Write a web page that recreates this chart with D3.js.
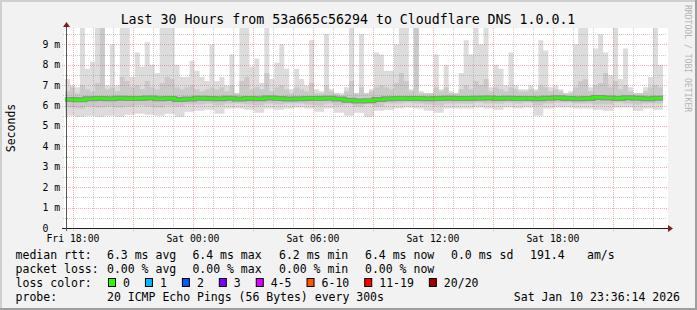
<!DOCTYPE html>
<html>
<head>
<meta charset="utf-8">
<script src="https://cdn.jsdelivr.net/npm/d3@7"></script>
<style>
html, body { margin: 0; padding: 0; background: #f2f2f2; }
svg { display: block; font-family: "DejaVu Sans Mono", monospace; }
</style>
</head>
<body>
<svg id="chart" width="697" height="310"></svg>
<script>
const W = 697, H = 310;
const X0 = 65, X1 = 665, Y_TOP = 28, Y_ZERO = 228;

const TITLE = "Last 30 Hours from 53a665c56294 to Cloudflare DNS 1.0.0.1";
const Y_TITLE = "Seconds";
const tStart = new Date(Date.UTC(2026, 0, 9, 17, 36, 14));
const tEnd = new Date(Date.UTC(2026, 0, 10, 23, 36, 14));
const tDataEnd = new Date(Date.UTC(2026, 0, 10, 23, 30, 0));
const yMax = 9.8;
const yTicks = [0, 1, 2, 3, 4, 5, 6, 7, 8, 9];

// smoke, in ms: upper envelope (15 min steps)
const pingMax = [
  7.3, 7.0, 6.9, 9.8, 7.8, 8.15, 9.8, 9.8, 7.0, 9.0, 7.0, 9.8, 9.8, 7.4, 8.6, 7.9, 9.1, 8.0, 7.6, 9.8, 9.8, 9.8, 8.0, 7.4, 7.4, 8.2, 7.7, 7.4, 7.2, 9.0,
  7.2, 7.4, 7.0, 8.5, 6.6, 9.8, 9.8, 7.9, 8.3, 7.1, 9.8, 7.3, 8.1, 9.0, 7.8, 6.8, 7.8, 7.3, 7.0, 9.2, 6.8, 6.7, 9.5, 6.8, 6.6, 6.6, 6.9, 9.8, 6.6, 9.5,
  6.6, 6.8, 8.6, 8.5, 7.7, 7.7, 9.0, 9.8, 9.8, 6.8, 9.8, 6.7, 6.6, 6.6, 8.5, 6.8, 8.0, 6.7, 6.6, 7.6, 9.2, 8.5, 9.8, 9.0, 9.8, 6.9, 8.0, 7.8, 7.0, 8.6,
  7.0, 6.8, 6.8, 7.0, 6.8, 9.2, 8.7, 6.9, 7.0, 6.8, 6.6, 6.7, 9.0, 9.8, 9.8, 6.9, 8.8, 9.5, 8.6, 7.5, 9.8, 7.3, 8.8, 6.9, 6.6, 6.6, 6.9, 7.4, 9.8, 8.0
];
// denser smoke, upper edge (15 min steps)
const pingHi = [
  6.7, 6.9, 6.6, 7.0, 6.8, 6.7, 7.1, 9.8, 6.8, 6.9, 6.7, 7.4, 7.2, 6.9, 7.0, 6.8, 7.2, 6.9, 6.8, 7.1, 7.4, 7.3, 6.9, 6.8, 6.9, 7.0, 6.8, 6.7, 6.8, 6.9,
  6.8, 6.9, 6.7, 7.0, 6.6, 7.2, 7.4, 6.8, 6.9, 6.8, 7.6, 6.7, 6.9, 7.0, 6.8, 6.6, 6.9, 6.8, 6.7, 7.1, 6.6, 6.6, 7.0, 6.7, 6.6, 6.5, 6.7, 7.2, 6.6, 6.9,
  6.6, 6.7, 6.9, 7.0, 6.9, 6.8, 7.1, 7.6, 7.2, 6.7, 9.8, 6.6, 6.6, 6.6, 6.9, 6.7, 6.9, 6.6, 6.6, 6.8, 7.0, 6.8, 7.2, 7.0, 7.3, 6.7, 6.9, 6.8, 6.7, 6.9,
  6.8, 6.7, 6.7, 6.8, 6.7, 7.0, 6.9, 6.7, 6.8, 6.7, 6.6, 6.6, 6.9, 7.2, 7.3, 6.7, 7.0, 7.1, 7.6, 6.9, 7.2, 6.8, 7.0, 6.7, 6.6, 6.6, 6.7, 6.9, 7.0, 6.9
];
// denser smoke, lower edge (30 min steps)
const pingLo = [
  5.9, 5.85, 5.95, 5.9, 5.95, 5.9, 5.95, 6.0, 5.95, 5.9, 6.0, 5.95, 6.05, 6.05, 6.1,
  6.0, 6.1, 6.1, 6.05, 6.0, 6.1, 6.05, 6.1, 6.1, 6.05, 6.0, 6.1, 6.0, 6.05, 5.95,
  6.05, 5.95, 6.1, 6.1, 6.15, 6.1, 6.05, 6.0, 6.1, 6.1, 6.1, 6.15, 6.1, 6.1, 6.15,
  6.1, 6.15, 6.0, 6.1, 6.15, 6.15, 6.1, 6.1, 6.05, 6.05, 6.15, 6.1, 6.05, 6.1, 6.1
];
// lower envelope (30 min steps)
const pingMin = [
  5.5, 5.45, 5.5, 5.45, 5.5, 5.45, 5.55, 5.6, 5.55, 5.5, 5.6, 5.45, 5.7, 5.75, 5.8,
  5.6, 5.85, 5.85, 5.8, 5.65, 5.85, 5.8, 5.85, 5.9, 5.85, 5.7, 5.85, 5.65, 5.5, 5.65,
  5.45, 5.75, 5.8, 5.85, 5.9, 5.85, 5.75, 5.65, 5.85, 5.85, 5.85, 5.9, 5.85, 5.8, 5.9,
  5.85, 5.9, 5.5, 5.85, 5.9, 5.9, 5.85, 5.85, 5.8, 5.75, 5.9, 5.9, 5.75, 5.85, 5.8
];
// median rtt (30 min steps)
const median = [
  6.3, 6.28, 6.33, 6.35, 6.33, 6.36, 6.34, 6.35, 6.37, 6.33, 6.35, 6.3, 6.32, 6.36, 6.34,
  6.33, 6.36, 6.32, 6.35, 6.33, 6.37, 6.34, 6.32, 6.33, 6.35, 6.34, 6.36, 6.32, 6.26, 6.22,
  6.24, 6.3, 6.33, 6.35, 6.34, 6.35, 6.33, 6.34, 6.36, 6.34, 6.35, 6.36, 6.37, 6.35, 6.36,
  6.34, 6.35, 6.33, 6.36, 6.38, 6.35, 6.33, 6.35, 6.4, 6.37, 6.35, 6.38, 6.36, 6.33, 6.36
];

const rttStats = ["6.3 ms avg", "6.4 ms max", "6.2 ms min", "6.4 ms now", "0.0 ms sd", "191.4", "am/s"];
const lossStats = ["0.00 % avg", "0.00 % max", "0.00 % min", "0.00 % now"];
const lossLabels = ["0", "1", "2", "3", "4-5", "6-10", "11-19", "20/20"];
const lossColors = ["#26ff00", "#00b8ff", "#0059ff", "#7e00ff", "#dd00ff", "#ff5500", "#ff0000", "#a10000"];
const probeText = "20 ICMP Echo Pings (56 Bytes) every 300s";
const stampText = "Sat Jan 10 23:36:14 2026";

// layout of gprint columns
const statX = [107, 192.4, 279, 365, 451, 530, 587];

const svg = d3.select("#chart");

// background + 3d frame
svg.append("rect").attr("width", W).attr("height", H).attr("fill", "#f2f2f2");
svg.append("rect").attr("x", 0).attr("y", 0).attr("width", W).attr("height", 2).attr("fill", "#cfcfcf");
svg.append("rect").attr("x", 0).attr("y", 0).attr("width", 2).attr("height", H).attr("fill", "#cfcfcf");
svg.append("rect").attr("x", 0).attr("y", H - 2).attr("width", W).attr("height", 2).attr("fill", "#9e9e9e");
svg.append("rect").attr("x", W - 2).attr("y", 0).attr("width", 2).attr("height", H).attr("fill", "#9e9e9e");

// canvas
svg.append("rect").attr("x", X0 - 1).attr("y", Y_TOP).attr("width", X1 - X0 + 4).attr("height", Y_ZERO - Y_TOP).attr("fill", "#fff");

const x = d3.scaleUtc().domain([tStart, tEnd]).range([X0, X1]);
const y = d3.scaleLinear().domain([0, yMax]).range([Y_ZERO, Y_TOP]);

// expand a sample array into step points spanning tStart..tDataEnd
function steps(arr) {
  const span = tDataEnd - tStart;
  const pts = [];
  arr.forEach((v, i) => {
    const a = +tStart + span * i / arr.length;
    const b = +tStart + span * (i + 1) / arr.length;
    pts.push([x(a), y(v)], [x(b), y(v)]);
  });
  return pts;
}

const line = d3.line();
function band(upper, lower) {
  const up = steps(upper);
  const lo = steps(lower).reverse();
  return line(up.concat(lo)) + "Z";
}

const plot = svg.append("g");
plot.append("path").attr("d", band(pingMax, pingMin)).attr("fill", "#dcdcdc");
plot.append("path").attr("d", band(pingHi, pingLo)).attr("fill", "#c9c9c9");
plot.append("path").attr("d", line(steps(median)))
  .attr("fill", "none").attr("stroke", "#555").attr("stroke-width", 5).attr("stroke-opacity", 0.5);
plot.append("path").attr("d", line(steps(median)))
  .attr("fill", "none").attr("stroke", lossColors[0]).attr("stroke-width", 2.6);

// grid on top, like rrdtool
const GRID = "rgba(143,143,143,0.45)";
const MGRID = "rgba(222,79,79,0.45)";
const grid = svg.append("g").attr("shape-rendering", "crispEdges");
const hours = d3.utcHour.range(d3.utcHour.ceil(tStart), tEnd);
hours.forEach(h => {
  const major = h.getUTCHours() % 3 === 0;
  const px = Math.round(x(h)) + 0.5;
  grid.append("line")
    .attr("x1", px).attr("x2", px).attr("y1", Y_TOP).attr("y2", Y_ZERO + (major ? 3 : 2))
    .attr("stroke", major ? MGRID : GRID)
    .attr("stroke-dasharray", "1,1");
});
d3.range(1, 20).forEach(k => {
  const v = k * 0.5;
  if (v > yMax) return;
  const major = k % 2 === 0;
  const py = Math.round(y(v)) + 0.5;
  grid.append("line")
    .attr("x1", X0 - (major ? 3 : 2)).attr("x2", X1 + 2).attr("y1", py).attr("y2", py)
    .attr("stroke", major ? MGRID : GRID)
    .attr("stroke-dasharray", "1,1");
});

// axes + arrows
const axisG = svg.append("g").attr("shape-rendering", "crispEdges");
axisG.append("line").attr("x1", X0 - 3).attr("x2", X1 + 4).attr("y1", Y_ZERO + 0.5).attr("y2", Y_ZERO + 0.5)
  .attr("stroke", "#1f1f1f");
axisG.append("line").attr("x1", X0 + 1.5).attr("x2", X0 + 1.5).attr("y1", Y_ZERO + 3).attr("y2", Y_TOP - 2)
  .attr("stroke", "#555");
svg.append("path").attr("d", `M${X1 + 3},${Y_ZERO - 3} L${X1 + 8},${Y_ZERO + 0.5} L${X1 + 3},${Y_ZERO + 4} Z`).attr("fill", "#801f1f");
svg.append("path").attr("d", `M${X0 - 2},${Y_TOP - 1} L${X0 + 1.5},${Y_TOP - 6} L${X0 + 5},${Y_TOP - 1} Z`).attr("fill", "#801f1f");

// tick labels
const labels = svg.append("g").attr("font-size", 9.8).attr("fill", "#000");
yTicks.forEach(v => {
  labels.append("text").attr("x", 42.5).attr("y", y(v) + 3.5)
    .attr("xml:space", "preserve")
    .text(v === 0 ? "0" : v + " m");
});
const fmt = d3.utcFormat("%a %H:%M");
hours.filter(h => h.getUTCHours() % 6 === 0).forEach(h => {
  labels.append("text").attr("x", x(h)).attr("y", 241.5).attr("text-anchor", "middle").text(fmt(h));
});

// title and axis title
svg.append("text").attr("x", 348).attr("y", 24).attr("text-anchor", "middle")
  .attr("font-size", 13.25).text(TITLE);
svg.append("text").attr("transform", `translate(14.5,${(Y_TOP + Y_ZERO) / 2}) rotate(-90)`)
  .attr("text-anchor", "middle").attr("font-size", 11.5).text(Y_TITLE);
svg.append("text").attr("transform", "translate(685,5) rotate(90)")
  .attr("font-size", 8.1).attr("fill", "#b4b4b4").text("RRDTOOL / TOBI OETIKER");

// legend
const leg = svg.append("g").attr("font-size", 11.5).attr("fill", "#000");
const rows = [259, 273, 287, 301];
leg.append("text").attr("x", 15.6).attr("y", rows[0]).text("median rtt:");
rttStats.forEach((s, i) => leg.append("text").attr("x", statX[i]).attr("y", rows[0]).text(s));
leg.append("text").attr("x", 15.6).attr("y", rows[1]).text("packet loss:");
lossStats.forEach((s, i) => leg.append("text").attr("x", statX[i]).attr("y", rows[1]).text(s));
leg.append("text").attr("x", 15.6).attr("y", rows[2]).text("loss color:");
let cx = 108;
lossLabels.forEach((s, i) => {
  leg.append("rect").attr("x", cx + 0.5).attr("y", rows[2] - 8.5).attr("width", 7).attr("height", 8)
    .attr("fill", lossColors[i]).attr("stroke", "#000").attr("stroke-width", 1);
  const t = leg.append("text").attr("x", cx + 15).attr("y", rows[2]).text(s);
  cx = cx + 15 + t.node().getComputedTextLength() + 15;
});
leg.append("text").attr("x", 15.6).attr("y", rows[3]).text("probe:");
leg.append("text").attr("x", statX[0]).attr("y", rows[3]).text(probeText);
leg.append("text").attr("x", 680).attr("y", rows[3]).attr("text-anchor", "end").text(stampText);
</script>
</body>
</html>
